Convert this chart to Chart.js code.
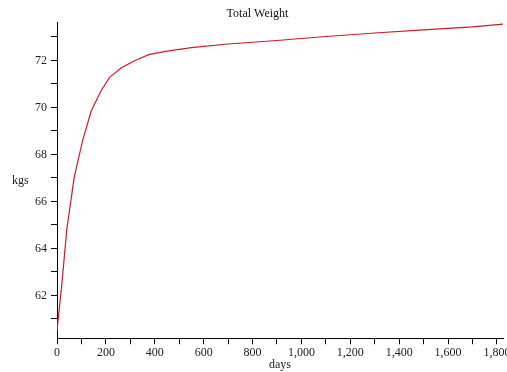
<!DOCTYPE html>
<html>
<head>
<meta charset="utf-8">
<script src="https://cdn.jsdelivr.net/npm/chart.js@4"></script>
<style>
  html, body { margin: 0; padding: 0; background: #fff; }
  #wrap { width: 507px; height: 372px; }
</style>
</head>
<body>
<div id="wrap"><canvas id="myChart"></canvas></div>
<script>
// values
const days = [0, 20, 40, 70, 105, 140, 180, 215, 265, 320, 375, 450, 550, 700, 900, 1100, 1300, 1500, 1700, 1825];
const weights = [60.5, 62.5, 64.8, 67.0, 68.6, 69.85, 70.7, 71.28, 71.7, 72.0, 72.25, 72.4, 72.55, 72.7, 72.85, 73.02, 73.17, 73.3, 73.43, 73.55];
const chartTitle = "Total Weight";
const xTitle = "days";
const yTitle = "kgs";

const points = days.map((d, i) => ({ x: d, y: weights[i] }));

const serif = "'Liberation Serif', 'Times New Roman', serif";
Chart.defaults.font.family = serif;
Chart.defaults.color = "#222";

// y title is drawn flat, left of the axis
const flatYTitle = {
  id: "flatYTitle",
  afterDraw(chart) {
    const ctx = chart.ctx;
    const area = chart.chartArea;
    ctx.save();
    ctx.font = "12px " + serif;
    ctx.fillStyle = "#222";
    ctx.textAlign = "left";
    ctx.textBaseline = "middle";
    ctx.fillText(yTitle, 12, (area.top + area.bottom) / 2 + 1);
    ctx.restore();
  }
};

new Chart(document.getElementById("myChart"), {
  type: "line",
  data: {
    datasets: [{
      data: points,
      borderColor: "rgb(205,25,40)",
      borderWidth: 1.2,
      pointRadius: 0,
      tension: 0,
      fill: false
    }]
  },
  options: {
    responsive: true,
    maintainAspectRatio: false,
    animation: false,
    layout: { padding: { left: 12, right: 4, top: 0, bottom: 0 } },
    plugins: {
      legend: { display: false },
      tooltip: { enabled: false },
      title: {
        display: true,
        text: chartTitle,
        color: "#111",
        font: { size: 12, weight: "normal" },
        padding: { top: 7, bottom: 1 }
      }
    },
    scales: {
      x: {
        type: "linear",
        min: 0,
        max: 1825,
        afterFit: (s) => { s.paddingRight = 0; },
        border: { display: true, color: "#000", width: 1 },
        grid: { drawOnChartArea: false, drawTicks: true, tickLength: 6, tickColor: "#000" },
        ticks: {
          stepSize: 100,
          includeBounds: false,
          maxRotation: 0,
          autoSkip: false,
          padding: 1,
          font: { size: 12 },
          callback: (v) => (v % 200 === 0 ? v.toLocaleString("en-US") : "")
        },
        title: {
          display: true,
          text: xTitle,
          font: { size: 12 },
          padding: { top: -3, bottom: 0 }
        }
      },
      y: {
        min: 60.18,
        max: 73.62,
        afterFit: (s) => { s.width = 45; },
        border: { display: true, color: "#000", width: 1 },
        grid: { drawOnChartArea: false, drawTicks: true, tickLength: 6, tickColor: "#000" },
        ticks: {
          stepSize: 1,
          includeBounds: false,
          autoSkip: false,
          padding: 4,
          font: { size: 12 },
          callback: (v) => (v % 2 === 0 ? String(v) : "")
        }
      }
    }
  },
  plugins: [flatYTitle]
});
</script>
</body>
</html>
